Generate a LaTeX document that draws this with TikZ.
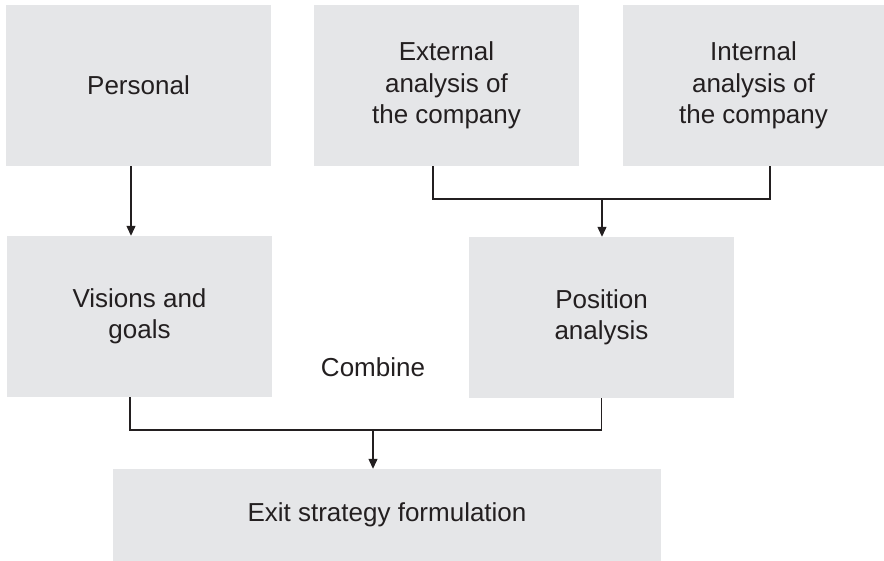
\documentclass[tikz,border=0pt]{standalone}
\usepackage{fontspec}
\setmainfont{Liberation Sans}
\usetikzlibrary{arrows.meta,positioning}
\definecolor{boxgray}{RGB}{229,230,232}
\definecolor{inkgray}{RGB}{35,31,32}

\tikzset{
  stepbox/.style={fill=boxgray, text=inkgray, minimum width=265pt, minimum height=161pt,
    inner sep=0pt, align=center, font=\fontsize{26}{31.5}\selectfont},
  link/.style={draw=inkgray, line width=1.2pt},
  arrowlink/.style={link, -{Triangle[width=9pt,length=10pt]}}
}

\begin{document}
\begin{tikzpicture}[x=1pt, y=-1pt]
  \useasboundingbox (0,0) rectangle (884,561);

  % top row
  \node[stepbox] (pers) at (138.5,85.5) {Personal};
  \node[stepbox] (ext) at (446.5,85.5) {External\\analysis of\\the company};
  \node[stepbox, minimum width=261pt] (int) at (753.5,85.5) {Internal\\analysis of\\the company};

  % middle row
  \node[stepbox] (vis) at (139.5,316.5) {Visions and\\goals};
  \node[stepbox] (pos) at (601.5,317.5) {Position\\analysis};

  % bottom
  \node[stepbox, minimum width=548pt, minimum height=92pt] (exit) at (387,515) {Exit strategy formulation};
  \node[text=inkgray, font=\fontsize{26}{31.5}\selectfont] (comb) at (373,367) {Combine};

  \coordinate (topjoin) at (602,199);
  \coordinate (botjoin) at (373,430);

  \draw[arrowlink] ([xshift=-7.5pt]pers.south) -- ([xshift=-7.5pt]pers.south |- vis.north);

  \draw[link] ([xshift=-13.5pt]ext.south) |- (topjoin) -| ([xshift=16.5pt]int.south);
  \draw[arrowlink] (topjoin) -- (topjoin |- pos.north);

  \draw[link] ([xshift=-9.5pt]vis.south) |- (botjoin) -| (pos.south);
  \draw[arrowlink] (botjoin) -- (botjoin |- exit.north);
\end{tikzpicture}
\end{document}
